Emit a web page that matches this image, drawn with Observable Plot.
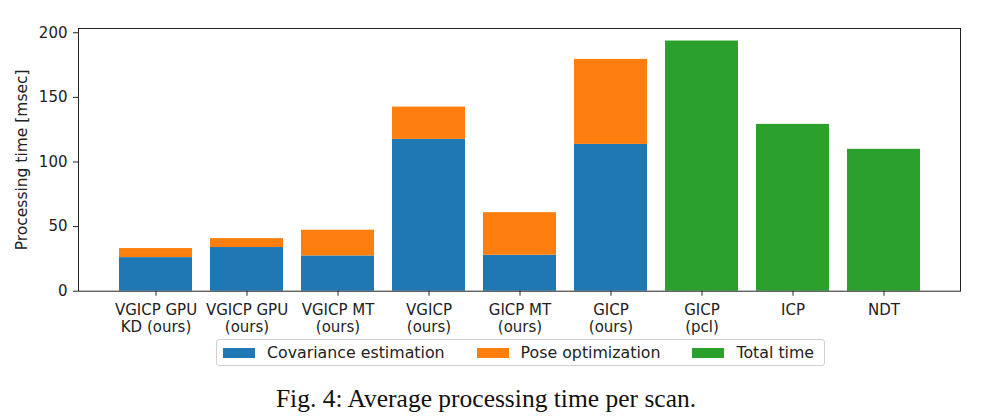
<!DOCTYPE html>
<html>
<head>
<meta charset="utf-8">
<script src="https://cdn.jsdelivr.net/npm/d3@7"></script>
<script src="https://cdn.jsdelivr.net/npm/@observablehq/plot@0.6"></script>
<style>
  body { margin: 0; background: #fff; }
  #wrap { position: relative; width: 996px; height: 420px; font-family: "DejaVu Sans", sans-serif; color: #222; }
  #chart { position: absolute; left: 0; top: 0; }
  #legend { position: absolute; left: 216px; top: 339px; width: 601px; height: 25px; border: 1px solid #d0d0d0; border-radius: 3px;
            display: flex; align-items: center; box-sizing: content-box; font-size: 15.8px; }
  .item { display: flex; align-items: center; }
  .sw { width: 32px; height: 10px; margin-right: 12px; }
  #caption { position: absolute; left: 0; width: 972px; top: 384px; text-align: center; font-family: "Liberation Serif", "Times New Roman", serif; font-size: 25.5px; color: #111; }
</style>
</head>
<body>
<div id="wrap">
  <div id="chart"></div>
  <div id="legend"></div>
  <div id="caption">Fig. 4: Average processing time per scan.</div>
</div>
<script>
const methods = ["VGICP GPU\nKD (ours)", "VGICP GPU\n(ours)", "VGICP MT\n(ours)", "VGICP\n(ours)", "GICP MT\n(ours)", "GICP\n(ours)", "GICP\n(pcl)", "ICP", "NDT"];
const series = ["Covariance estimation", "Pose optimization", "Total time"];
const colors = ["#1f77b4", "#ff7f0e", "#2ca02c"];
const covariance = [26, 33.8, 27.3, 117.5, 27.8, 113.6, 0, 0, 0];
const pose = [7, 6.9, 19.9, 25, 33, 65.8, 0, 0, 0];
const total = [0, 0, 0, 0, 0, 0, 193.6, 129.1, 109.8];
const yTicks = [0, 50, 100, 150, 200];
const yLabel = "Processing time [msec]";

const rows = [];
methods.forEach((m, i) => {
  if (covariance[i] > 0) rows.push({method: m, series: series[0], value: covariance[i]});
  if (pose[i] > 0) rows.push({method: m, series: series[1], value: pose[i]});
  if (total[i] > 0) rows.push({method: m, series: series[2], value: total[i]});
});

const plot = Plot.plot({
  width: 996,
  height: 345,
  marginLeft: 78,
  marginRight: 36,
  marginTop: 28,
  marginBottom: 54.3,
  style: {fontFamily: "DejaVu Sans, sans-serif", fontSize: "15px", color: "#222", background: "white"},
  x: {domain: methods, paddingInner: 0.2, paddingOuter: 0.44, align: 0.5, axis: null},
  y: {domain: [0, 203.3], axis: null},
  color: {domain: series, range: colors},
  marks: [
    Plot.barY(rows, {x: "method", y: "value", fill: "series"}),
    Plot.frame({stroke: "#222", strokeWidth: 1}),
    Plot.axisX({tickSize: 5, tickPadding: 7, fontSize: 15, lineHeight: 1.13, label: null, stroke: "#222"}),
    Plot.axisY({ticks: yTicks, tickSize: 5, tickPadding: 6, fontSize: 15, label: null, stroke: "#222"}),
    Plot.text([yLabel], {text: d => d, frameAnchor: "left", textAnchor: "middle", rotate: -90, dx: -56, fontSize: 15.5, fill: "#222"})
  ]
});
document.getElementById("chart").appendChild(plot);

const legend = document.getElementById("legend");
legend.style.paddingLeft = "6px";
series.forEach((s, i) => {
  const item = document.createElement("div");
  item.className = "item";
  if (i > 0) item.style.marginLeft = "32px";
  const sw = document.createElement("div");
  sw.className = "sw";
  sw.style.background = colors[i];
  const t = document.createElement("span");
  t.textContent = s;
  item.appendChild(sw);
  item.appendChild(t);
  legend.appendChild(item);
});
</script>
</body>
</html>
